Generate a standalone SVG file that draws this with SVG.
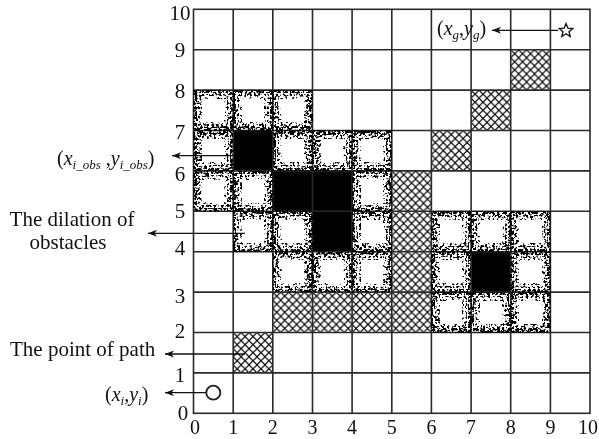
<svg xmlns="http://www.w3.org/2000/svg" xmlns:xlink="http://www.w3.org/1999/xlink" width="599" height="439" viewBox="0 0 599 439">
<style>
.t{font-family:"Liberation Serif","Times New Roman",serif;fill:#111;}
.ax{font-size:21px;text-anchor:middle;}
.axb{font-size:20px;text-anchor:middle;}
.lb{font-size:21px;}
.pl{font-size:20px;}
.it{font-style:italic;}
.sb{font-size:13px;font-style:italic;}
.grid{stroke:#2a2a2a;stroke-width:1.6;fill:none;}
.arr{stroke:#111;stroke-width:1.3;fill:none;marker-end:url(#ah);}
.blk{fill:#000;}
.hat{fill:url(#hatch);}
.band{fill:none;stroke:#000;}
</style>
<defs>
<marker id="ah" markerUnits="userSpaceOnUse" markerWidth="10" markerHeight="8" refX="9" refY="3.5" orient="auto">
<path d="M0,0 L9,3.5 L0,7 L2.5,3.5 z" fill="#111"/>
</marker>
<pattern id="hatch" patternUnits="objectBoundingBox" width="0.2" height="0.2" viewBox="0 0 8 8">
<rect width="8" height="8" fill="#fff"/>
<path d="M-1,-1 L9,9 M-1,9 L9,-1" stroke="#000" stroke-width="1.2"/>
</pattern>
<g id="dilband">
<rect class="band" x="1.5" y="1.5" width="36.65" height="37.4" stroke-width="4" stroke-opacity="1"/>
<rect class="band" x="5" y="5" width="29.65" height="30.4" stroke-width="3" stroke-opacity="0.9"/>
<rect class="band" x="7.75" y="7.75" width="24.15" height="24.9" stroke-width="2.5" stroke-opacity="0.8"/>
</g>
<filter id="speck" filterUnits="userSpaceOnUse" x="0" y="0" width="599" height="439" color-interpolation-filters="sRGB">
<feTurbulence type="fractalNoise" baseFrequency="0.42" numOctaves="2" seed="4" result="noise"/>
<feColorMatrix in="noise" type="matrix" values="0 0 0 0 0  0 0 0 0 0  0 0 0 0 0  1 0 0 0 0" result="na"/>
<feComposite in="na" in2="SourceAlpha" operator="arithmetic" k1="1" k2="0" k3="0" k4="0" result="prod"/>
<feComponentTransfer in="prod">
<feFuncA type="linear" slope="12" intercept="-5.1"/>
</feComponentTransfer>
</filter>
</defs>
<rect width="599" height="439" fill="#fff"/>

<g id="path-cells">
<rect class="hat" x="233.2" y="332.5" width="39.65" height="40.4"/>
<rect class="hat" x="272.8" y="292.1" width="39.65" height="40.4"/>
<rect class="hat" x="312.5" y="292.1" width="39.65" height="40.4"/>
<rect class="hat" x="352.1" y="292.1" width="39.65" height="40.4"/>
<rect class="hat" x="391.8" y="292.1" width="39.65" height="40.4"/>
<rect class="hat" x="391.8" y="251.7" width="39.65" height="40.4"/>
<rect class="hat" x="391.8" y="211.3" width="39.65" height="40.4"/>
<rect class="hat" x="391.8" y="170.9" width="39.65" height="40.4"/>
<rect class="hat" x="431.4" y="130.5" width="39.65" height="40.4"/>
<rect class="hat" x="471.1" y="90.1" width="39.65" height="40.4"/>
<rect class="hat" x="510.7" y="49.7" width="39.65" height="40.4"/>
</g>

<g id="obstacles">
<rect class="blk" x="233.2" y="130.5" width="39.65" height="40.4"/>
<rect class="blk" x="272.8" y="170.9" width="79.3" height="40.4"/>
<rect class="blk" x="312.5" y="211.3" width="39.65" height="40.4"/>
<rect class="blk" x="471.1" y="251.7" width="39.65" height="40.4"/>
</g>

<g id="grid">
<path class="grid" d="M233.2,9.3V413.3 M272.8,9.3V413.3 M312.5,9.3V413.3 M352.1,9.3V413.3 M391.8,9.3V413.3 M431.4,9.3V413.3 M471.1,9.3V413.3 M510.7,9.3V413.3 M550.4,9.3V413.3
M193.5,49.7H590 M193.5,90.1H590 M193.5,130.5H590 M193.5,170.9H590 M193.5,211.3H590 M193.5,251.7H590 M193.5,292.1H590 M193.5,332.5H590 M193.5,372.9H590"/>
<rect class="grid" x="193.5" y="9.3" width="396.5" height="404" stroke-width="2"/>
</g>

<g id="dilation" filter="url(#speck)">
<use xlink:href="#dilband" x="193.5" y="90.1"/>
<use xlink:href="#dilband" x="233.2" y="90.1"/>
<use xlink:href="#dilband" x="272.8" y="90.1"/>
<use xlink:href="#dilband" x="193.5" y="130.5"/>
<use xlink:href="#dilband" x="272.8" y="130.5"/>
<use xlink:href="#dilband" x="312.5" y="130.5"/>
<use xlink:href="#dilband" x="352.1" y="130.5"/>
<use xlink:href="#dilband" x="193.5" y="170.9"/>
<use xlink:href="#dilband" x="233.2" y="170.9"/>
<use xlink:href="#dilband" x="352.1" y="170.9"/>
<use xlink:href="#dilband" x="233.2" y="211.3"/>
<use xlink:href="#dilband" x="272.8" y="211.3"/>
<use xlink:href="#dilband" x="352.1" y="211.3"/>
<use xlink:href="#dilband" x="431.4" y="211.3"/>
<use xlink:href="#dilband" x="471.1" y="211.3"/>
<use xlink:href="#dilband" x="510.7" y="211.3"/>
<use xlink:href="#dilband" x="272.8" y="251.7"/>
<use xlink:href="#dilband" x="312.5" y="251.7"/>
<use xlink:href="#dilband" x="352.1" y="251.7"/>
<use xlink:href="#dilband" x="431.4" y="251.7"/>
<use xlink:href="#dilband" x="510.7" y="251.7"/>
<use xlink:href="#dilband" x="431.4" y="292.1"/>
<use xlink:href="#dilband" x="471.1" y="292.1"/>
<use xlink:href="#dilband" x="510.7" y="292.1"/>
</g>

<g id="start">
<circle cx="213.3" cy="392.7" r="7" fill="#fff" stroke="#222" stroke-width="1.8"/>
</g>
<g id="goal">
<path d="M566,23.5 L567.9,28.2 L572.8,28.5 L569,31.7 L570.2,36.5 L566,33.8 L561.8,36.5 L563,31.7 L559.2,28.5 L564.1,28.2 Z" fill="#fff" stroke="#111" stroke-width="1.3" stroke-linejoin="miter"/>
</g>

<g id="connectors">
<line class="arr" x1="558" y1="30.3" x2="492" y2="30.3"/>
<line class="arr" x1="232" y1="155.7" x2="172" y2="155.7"/>
<line class="arr" x1="245" y1="233.3" x2="148" y2="233.3"/>
<line class="arr" x1="245" y1="354" x2="165" y2="354"/>
<line class="arr" x1="206" y1="392.7" x2="165" y2="392.7"/>
</g>

<g id="axis-labels" class="t">
<g class="ax">
<text x="180" y="19.5">10</text>
<text x="180" y="57">9</text>
<text x="180" y="98">8</text>
<text x="180" y="139">7</text>
<text x="180" y="181">6</text>
<text x="180" y="218">5</text>
<text x="180" y="255">4</text>
<text x="180" y="303">3</text>
<text x="180" y="338.3">2</text>
<text x="180" y="381.7">1</text>
<text x="183" y="420">0</text>
</g>
<g class="axb">
<text x="195" y="434">0</text>
<text x="233.2" y="434">1</text>
<text x="272.8" y="434">2</text>
<text x="312.5" y="434">3</text>
<text x="352.1" y="434">4</text>
<text x="391.8" y="434">5</text>
<text x="431.4" y="434">6</text>
<text x="471.1" y="434">7</text>
<text x="510.7" y="434">8</text>
<text x="550.4" y="434">9</text>
<text x="588" y="434">10</text>
</g>
</g>

<g id="label-goal" class="t pl">
<text x="437" y="35">(<tspan class="it">x</tspan><tspan class="sb" dy="4">g</tspan><tspan dy="-4">,</tspan><tspan class="it">y</tspan><tspan class="sb" dy="4">g</tspan><tspan dy="-4">)</tspan></text>
</g>
<g id="label-obs" class="t pl">
<text x="57" y="165">(<tspan class="it">x</tspan><tspan class="sb" dy="4">i_obs</tspan><tspan dy="-4"> ,</tspan><tspan class="it">y</tspan><tspan class="sb" dy="4">i_obs</tspan><tspan dy="-4">)</tspan></text>
</g>
<g id="label-dilation" class="t lb">
<text x="72" y="225.5" text-anchor="middle">The dilation of</text>
<text x="68" y="248.5" text-anchor="middle">obstacles</text>
</g>
<g id="label-path" class="t lb">
<text x="10" y="356">The point of path</text>
</g>
<g id="label-start" class="t pl">
<text x="105" y="401">(<tspan class="it">x</tspan><tspan class="sb" dy="4">i</tspan><tspan dy="-4">,</tspan><tspan class="it">y</tspan><tspan class="sb" dy="4">i</tspan><tspan dy="-4">)</tspan></text>
</g>
</svg>
